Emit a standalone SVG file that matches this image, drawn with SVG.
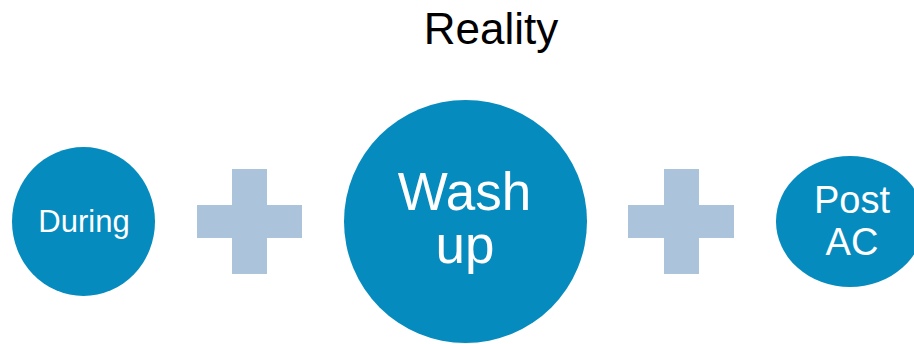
<svg xmlns="http://www.w3.org/2000/svg" width="914" height="344" viewBox="0 0 914 344">
<style>
.node{fill:#068bbf}
.plus{fill:#abc4db}
.lbl{fill:#ffffff;font-family:"Liberation Sans",Arial,sans-serif;text-anchor:middle}
.title{fill:#000000;font-family:"Liberation Sans",Arial,sans-serif;text-anchor:middle;font-size:44px}
</style>
<rect width="914" height="344" fill="#ffffff"/>
<text class="title" x="491" y="44">Reality</text>
<g id="during">
<ellipse class="node" cx="83.5" cy="221.5" rx="71.5" ry="74.5"/>
<text class="lbl" x="84" y="232" font-size="31">During</text>
</g>
<g id="plus1">
<rect class="plus" x="197" y="205" width="105" height="33"/>
<rect class="plus" x="232" y="169" width="35" height="105"/>
</g>
<g id="washup">
<circle class="node" cx="465.5" cy="221.5" r="121.5"/>
<text class="lbl" x="464.5" y="210" font-size="53">Wash</text>
<text class="lbl" x="465" y="263" font-size="53">up</text>
</g>
<g id="plus2">
<rect class="plus" x="628" y="205" width="106" height="33"/>
<rect class="plus" x="664" y="169" width="35" height="105"/>
</g>
<g id="postac">
<ellipse class="node" cx="850" cy="221.5" rx="74" ry="65.5"/>
<text class="lbl" x="852" y="213" font-size="38">Post</text>
<text class="lbl" x="852" y="255" font-size="38">AC</text>
</g>
<g id="connectors"></g>
</svg>
